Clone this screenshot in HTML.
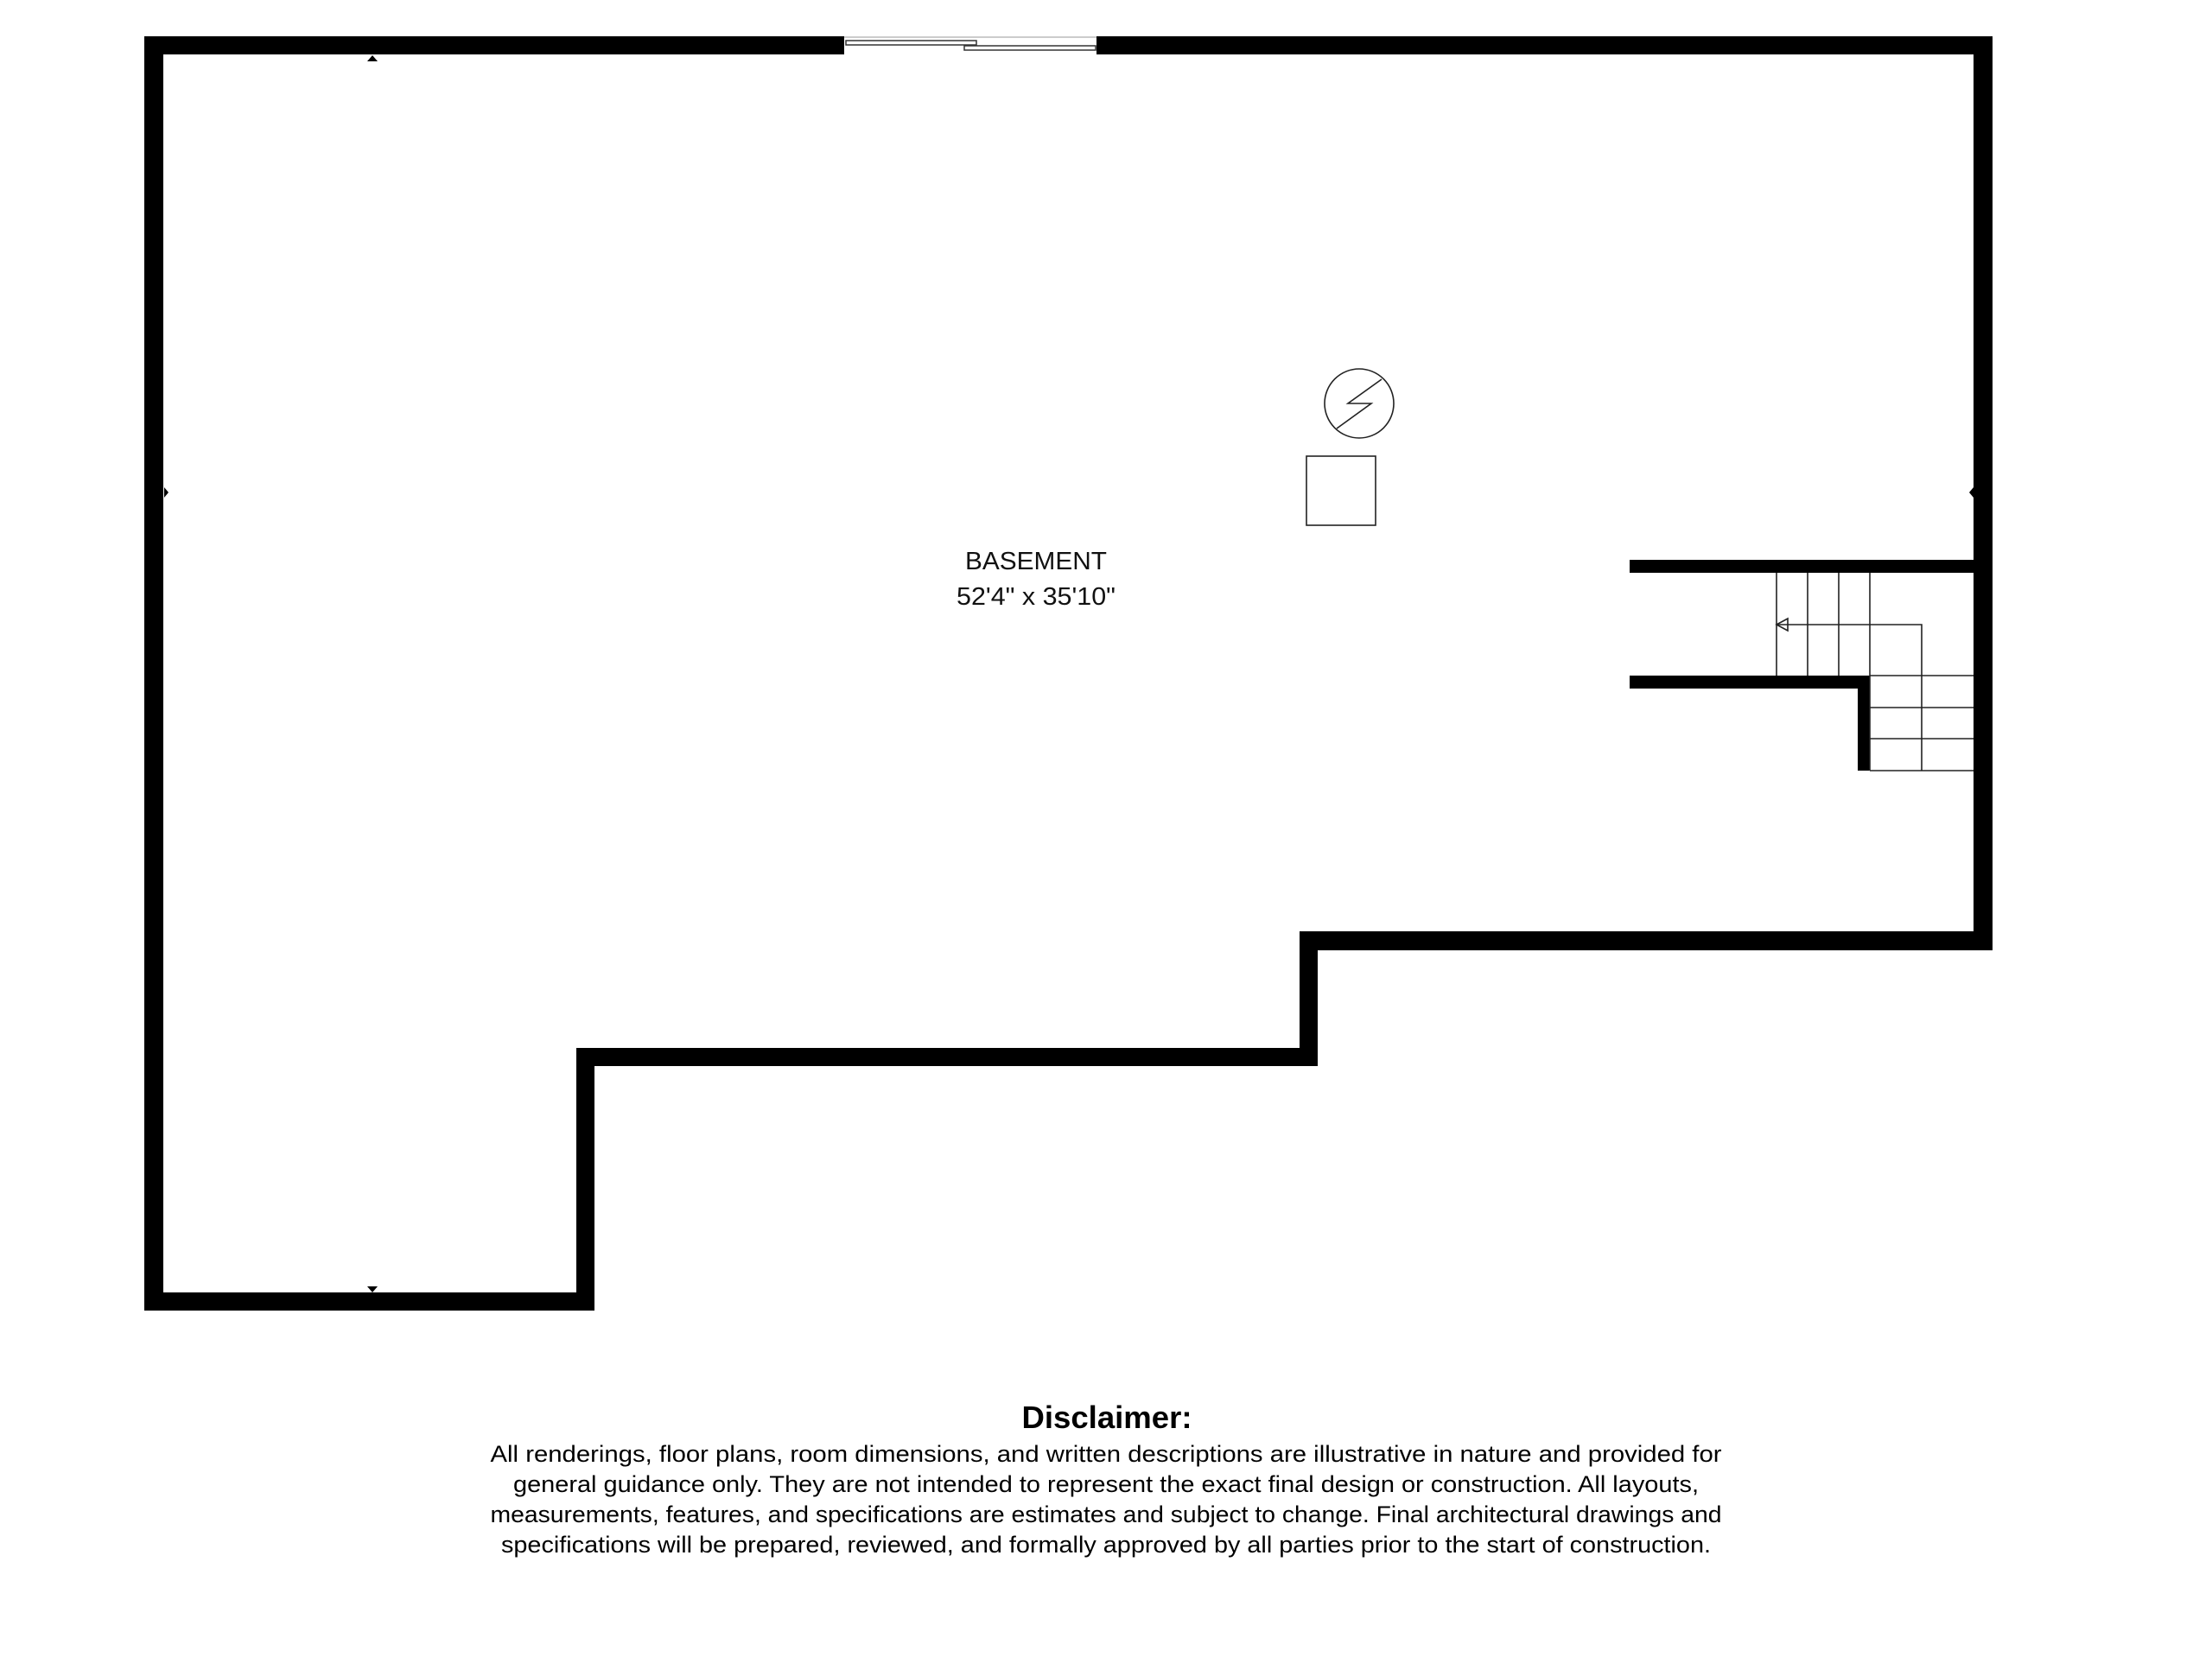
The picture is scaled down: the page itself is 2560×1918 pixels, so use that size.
<!DOCTYPE html>
<html><head><meta charset="utf-8"><style>
html,body{margin:0;padding:0;background:#fff;}
svg{display:block;}
</style></head><body>
<svg width="2560" height="1918" viewBox="0 0 2560 1918" xmlns="http://www.w3.org/2000/svg">
<rect width="2560" height="1918" fill="#fff"/>
<g fill="#000">
<!-- top wall -->
<rect x="167" y="42" width="810" height="21"/>
<rect x="1269" y="42" width="1037" height="21"/>
<!-- left wall -->
<rect x="167" y="42" width="22" height="1475"/>
<!-- right wall -->
<rect x="2284" y="42" width="22" height="1058"/>
<!-- step walls -->
<rect x="1504" y="1078" width="802" height="22"/>
<rect x="1504" y="1078" width="21" height="156"/>
<rect x="667" y="1213" width="858" height="21"/>
<rect x="667" y="1213" width="21" height="304"/>
<rect x="167" y="1496" width="521" height="21"/>
<!-- stair walls -->
<rect x="1886" y="648" width="400" height="15"/>
<rect x="1886" y="782" width="278" height="15"/>
<rect x="2150" y="782" width="14" height="110"/>
<!-- markers -->
<polygon points="425,71 437,71 431,64"/>
<polygon points="425,1489 437,1489 431,1496"/>
<polygon points="190,564 190,576 195,570"/>
<polygon points="2284,564 2284,576 2279,570"/>
</g>
<!-- window -->
<g fill="none" stroke="#333" stroke-width="1.5">
<line x1="977" y1="43" x2="1269" y2="43" stroke="#bbb"/>
<rect x="979" y="47" width="151" height="5"/>
<rect x="1116" y="53" width="152" height="5"/>
</g>
<!-- stairs -->
<g fill="none" stroke="#222" stroke-width="1.6">
<line x1="2056" y1="663" x2="2056" y2="782"/>
<line x1="2092" y1="663" x2="2092" y2="782"/>
<line x1="2128" y1="663" x2="2128" y2="782"/>
<line x1="2164" y1="663" x2="2164" y2="892"/>
<line x1="2164" y1="782" x2="2284" y2="782"/>
<line x1="2164" y1="819" x2="2284" y2="819"/>
<line x1="2164" y1="855" x2="2284" y2="855"/>
<line x1="2164" y1="892" x2="2284" y2="892"/>
<polyline points="2056,723 2224,723 2224,892"/>
<polygon points="2056,723 2069,716 2069,730"/>
</g>
<!-- panel + water heater -->
<g fill="none" stroke="#222" stroke-width="1.6">
<circle cx="1573" cy="467" r="40"/>
<polyline points="1599,439 1560,467 1587,467 1547,496"/>
<rect x="1512" y="528" width="80" height="80"/>
</g>
<g font-family="Liberation Sans, sans-serif" fill="#111" text-anchor="middle">
<text x="1199" y="659" font-size="29" textLength="164" lengthAdjust="spacingAndGlyphs">BASEMENT</text>
<text x="1199" y="700" font-size="29" textLength="184" lengthAdjust="spacingAndGlyphs">52'4" x 35'10"</text>
</g>
<g font-family="Liberation Sans, sans-serif" fill="#000" text-anchor="middle">
<text x="1281" y="1653" font-size="36" font-weight="bold" textLength="197" lengthAdjust="spacingAndGlyphs">Disclaimer:</text>
<text x="1280" y="1692" font-size="27" textLength="1425" lengthAdjust="spacingAndGlyphs">All renderings, floor plans, room dimensions, and written descriptions are illustrative in nature and provided for</text>
<text x="1280" y="1727" font-size="27" textLength="1372" lengthAdjust="spacingAndGlyphs">general guidance only. They are not intended to represent the exact final design or construction. All layouts,</text>
<text x="1280" y="1762" font-size="27" textLength="1425" lengthAdjust="spacingAndGlyphs">measurements, features, and specifications are estimates and subject to change. Final architectural drawings and</text>
<text x="1280" y="1797" font-size="27" textLength="1400" lengthAdjust="spacingAndGlyphs">specifications will be prepared, reviewed, and formally approved by all parties prior to the start of construction.</text>
</g>
</svg>
</body></html>
